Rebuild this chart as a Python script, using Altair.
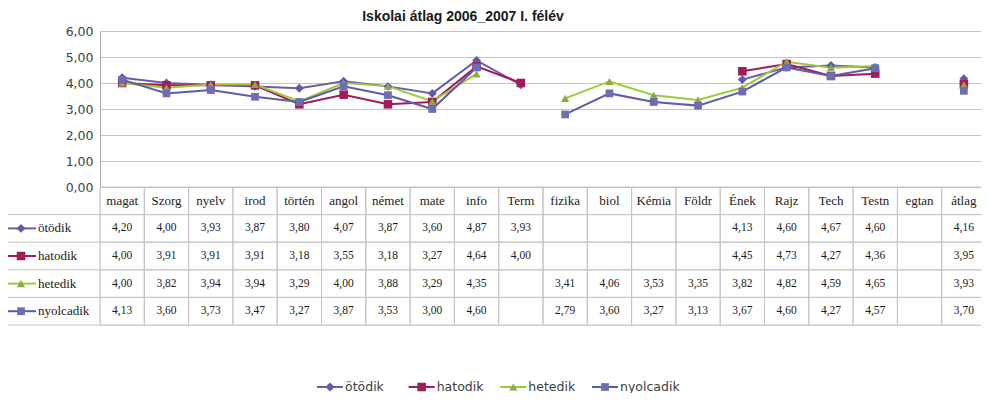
import altair as alt
import pandas as pd

title_text = "Iskolai átlag 2006_2007 I. félév"

categories = ["magat", "Szorg", "nyelv", "irod", "történ", "angol", "német", "mate",
              "info", "Term", "fizika", "biol", "Kémia", "Földr", "Ének", "Rajz",
              "Tech", "Testn", "egtan", "átlag"]

series_names = ["ötödik", "hatodik", "hetedik", "nyolcadik"]

otodik = [4.20, 4.00, 3.93, 3.87, 3.80, 4.07, 3.87, 3.60, 4.87, 3.93,
          None, None, None, None, 4.13, 4.60, 4.67, 4.60, None, 4.16]
hatodik = [4.00, 3.91, 3.91, 3.91, 3.18, 3.55, 3.18, 3.27, 4.64, 4.00,
           None, None, None, None, 4.45, 4.73, 4.27, 4.36, None, 3.95]
hetedik = [4.00, 3.82, 3.94, 3.94, 3.29, 4.00, 3.88, 3.29, 4.35, None,
           3.41, 4.06, 3.53, 3.35, 3.82, 4.82, 4.59, 4.65, None, 3.93]
nyolcadik = [4.13, 3.60, 3.73, 3.47, 3.27, 3.87, 3.53, 3.00, 4.60, None,
             2.79, 3.60, 3.27, 3.13, 3.67, 4.60, 4.27, 4.57, None, 3.70]

y_ticks = [0, 1, 2, 3, 4, 5, 6]

line_colors = ["#6A5DAA", "#A3195B", "#9BCB3B", "#5C5CA8"]
marker_fills = ["#5E5AA8", "#A01D5A", "#8BAA45", "#6D6DB6"]
marker_shapes = ["diamond", "square", "triangle-up", "square"]
marker_sizes = [80, 60, 80, 190]

values_by_series = [otodik, hatodik, hetedik, nyolcadik]
rows = ["hdr"] + series_names

# ---- long data for the plot (segments break at missing values)
recs = []
for s, vals in zip(series_names, values_by_series):
    seg = 0
    for i, (c, v) in enumerate(zip(categories, vals)):
        if v is None:
            seg += 1
            continue
        recs.append({"series": s, "cat": c, "v": v, "seg": f"{s}-{seg}", "idx": i})
long_df = pd.DataFrame(recs)

# ---- table data
cell_recs = []
text_recs = []
for c in categories:
    for r in rows:
        cell_recs.append({"cat": c, "row": r})
    text_recs.append({"cat": c, "row": "hdr", "label": c, "kind": "hdr"})
for s, vals in zip(series_names, values_by_series):
    for c, v in zip(categories, vals):
        lab = "" if v is None else f"{v:.2f}".replace(".", ",")
        text_recs.append({"cat": c, "row": s, "label": lab, "kind": "val"})
cells_df = pd.DataFrame(cell_recs)
text_df = pd.DataFrame(text_recs)
rows_df = pd.DataFrame({"row": rows})
keys_df = pd.DataFrame({"row": series_names, "series": series_names})
title_df = pd.DataFrame({"t": [title_text]})

W = 881
PLOT_H = 156
TABLE_H = 138
X_RANGE = [0, 886]
GRID = "#C4C4C4"
SERIF = "Liberation Serif"
SANS = "DejaVu Sans"

x_scale = alt.Scale(type="band", domain=categories, range=X_RANGE, paddingInner=0, paddingOuter=0)
y_scale = alt.Scale(domain=[0, 6], range=[PLOT_H, 0], nice=False)
row_scale = alt.Scale(type="band", domain=rows, range=[PLOT_H, PLOT_H + TABLE_H],
                      paddingInner=0, paddingOuter=0)

color_enc = alt.Color("series:N", scale=alt.Scale(domain=series_names, range=line_colors), legend=None)
fill_enc = alt.Fill("series:N", scale=alt.Scale(domain=series_names, range=marker_fills), legend=None)
shape_enc = alt.Shape("series:N", scale=alt.Scale(domain=series_names, range=marker_shapes), legend=None)
size_enc = alt.Size("series:N", scale=alt.Scale(domain=series_names, range=marker_sizes), legend=None)

xc = alt.X("cat:N", scale=x_scale, axis=None)

lines = alt.Chart(long_df).mark_line(strokeWidth=2).encode(
    x=xc,
    y=alt.Y("v:Q", scale=y_scale, axis=alt.Axis(
        values=y_ticks, title=None, grid=True, gridColor=GRID, gridWidth=1,
        domainColor="#A8A8A8", ticks=False, labelPadding=7,
        labelExpr="replace(format(datum.value, '.2f'), '.', ',')",
        labelFont=SANS, labelFontSize=12.5, labelColor="#404040")),
    color=color_enc,
    detail="seg:N",
    order=alt.Order("idx:Q"),
)

points = alt.Chart(long_df).mark_point(filled=True, opacity=1, strokeWidth=0).encode(
    x=xc,
    y=alt.Y("v:Q", scale=y_scale, axis=None),
    fill=fill_enc, shape=shape_enc, size=size_enc,
)

cells = alt.Chart(cells_df).mark_rect(fillOpacity=0, stroke=GRID, strokeWidth=1).encode(
    x=xc, y=alt.Y("row:N", scale=row_scale, axis=None),
)

hdr_text = alt.Chart(text_df).transform_filter("datum.kind == 'hdr'").mark_text(
    font=SERIF, fontSize=13, color="#1A1A1A").encode(
    x=xc, y=alt.Y("row:N", scale=row_scale, axis=None), text="label:N")

val_text = alt.Chart(text_df).transform_filter("datum.kind == 'val'").mark_text(
    font=SERIF, fontSize=11.5, color="#1A1A1A").encode(
    x=xc, y=alt.Y("row:N", scale=row_scale, axis=None), text="label:N")

left_rules = alt.Chart(rows_df).mark_rule(color=GRID, strokeWidth=1).encode(
    x=alt.value(-95), x2=alt.value(0),
    y=alt.Y("row:N", scale=row_scale, axis=None, bandPosition=1),
)

key_lines = alt.Chart(keys_df).mark_rule(strokeWidth=2).encode(
    x=alt.value(-94), x2=alt.value(-64),
    y=alt.Y("row:N", scale=row_scale, axis=None),
    color=color_enc,
)
key_points = alt.Chart(keys_df).mark_point(filled=True, opacity=1, strokeWidth=0).encode(
    x=alt.value(-79),
    y=alt.Y("row:N", scale=row_scale, axis=None),
    fill=fill_enc, shape=shape_enc, size=size_enc,
)
key_text = alt.Chart(keys_df).mark_text(font=SERIF, fontSize=13, align="left", color="#1A1A1A").encode(
    x=alt.value(-62),
    y=alt.Y("row:N", scale=row_scale, axis=None),
    text="series:N",
)

LEG_Y = 356
leg_x = alt.X("series:N", scale=alt.Scale(type="point", domain=series_names, range=[230, 505], padding=0), axis=None)
leg_lines = alt.Chart(keys_df).mark_rule(strokeWidth=2, xOffset=-13, x2Offset=13).encode(
    x=leg_x, x2=alt.X2("series:N"), y=alt.value(LEG_Y), color=color_enc)
leg_points = alt.Chart(keys_df).mark_point(filled=True, opacity=1, strokeWidth=0).encode(
    x=leg_x, y=alt.value(LEG_Y), fill=fill_enc, shape=shape_enc,
    size=alt.Size("series:N", scale=alt.Scale(domain=series_names, range=marker_sizes), legend=None))
leg_text = alt.Chart(keys_df).mark_text(font=SANS, fontSize=12.5, align="left", dx=15, color="#404040").encode(
    x=leg_x, y=alt.value(LEG_Y), text="series:N")

title = alt.Chart(title_df).mark_text(font="Liberation Sans", fontSize=14, fontWeight="bold",
                                      baseline="alphabetic", color="#1A1A1A").encode(
    x=alt.value(363), y=alt.value(-10), text="t:N")

chart = alt.layer(
    cells, left_rules, lines, points, hdr_text, val_text,
    key_lines, key_points, key_text, leg_lines, leg_points, leg_text, title
).resolve_scale(x="independent", y="independent").properties(
    width=W, height=PLOT_H + TABLE_H,
    autosize=alt.AutoSizeParams(type="none"),
    padding={"left": 92, "top": 23, "right": 0, "bottom": 68},
).configure_view(stroke=None).configure(background="white")

chart.save("out.html", embed_options={"renderer": "svg", "actions": False})
